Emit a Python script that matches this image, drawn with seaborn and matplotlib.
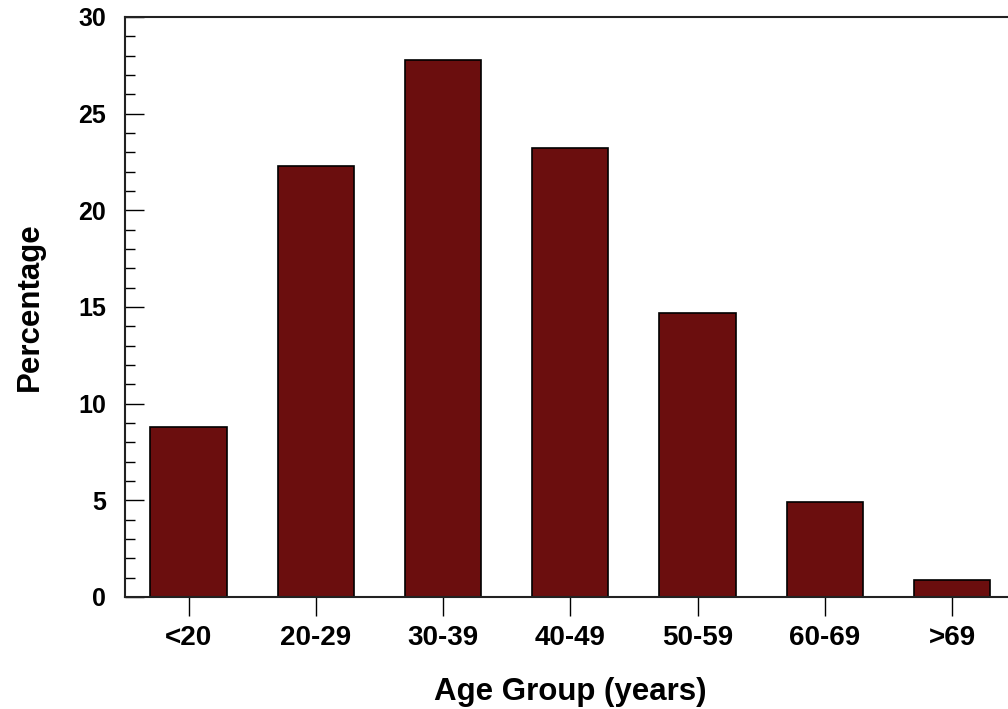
import numpy as np
import pandas as pd
import matplotlib
matplotlib.use('Agg')
import matplotlib.pyplot as plt
from matplotlib.ticker import MultipleLocator
import seaborn as sns


# Age distribution (percent of respondents)
age_groups = ['<20', '20-29', '30-39', '40-49', '50-59', '60-69', '>69']
percentages = [8.8, 22.3, 27.8, 23.2, 14.7, 4.9, 0.9]

df = pd.DataFrame({'age': age_groups, 'pct': percentages})

sns.set_style('ticks')
plt.rcParams['font.family'] = ['Liberation Sans', 'DejaVu Sans']
plt.rcParams['font.weight'] = 'bold'
plt.rcParams['text.color'] = 'black'
plt.rcParams['axes.labelcolor'] = 'black'
plt.rcParams['xtick.color'] = 'black'
plt.rcParams['ytick.color'] = 'black'

fig = plt.figure(figsize=(10.08, 7.09), dpi=100)
ax = fig.add_axes([125 / 1008, 112 / 709, 890.6 / 1008, 580 / 709])

sns.barplot(x='age', y='pct', data=df, order=age_groups, color='#6b0e0e',
            saturation=1, width=0.6, edgecolor='black', linewidth=1.2, ax=ax)

ax.set_xlim(-0.5, 6.5)
ax.set_ylim(0, 30)
ax.yaxis.set_major_locator(MultipleLocator(5))
ax.yaxis.set_minor_locator(MultipleLocator(1))
ax.tick_params(axis='y', which='major', direction='in', length=14,
               width=1, pad=13.5, labelsize=18)
ax.tick_params(axis='y', which='minor', direction='in', length=7, width=1)
ax.tick_params(axis='x', direction='out', length=14, width=1, pad=6,
               labelsize=20)
for lab in ax.get_xticklabels() + ax.get_yticklabels():
    lab.set_fontweight('bold')

for side in ['top', 'left', 'bottom']:
    ax.spines[side].set_linewidth(1.5)
    ax.spines[side].set_color('#222222')
ax.spines['right'].set_visible(False)

ax.set_xlabel('Age Group (years)', fontsize=22.5, fontweight='bold',
              labelpad=19)
ax.set_ylabel('Percentage', fontsize=22.5, fontweight='bold', labelpad=24)

fig.savefig('out.png', dpi=100)
